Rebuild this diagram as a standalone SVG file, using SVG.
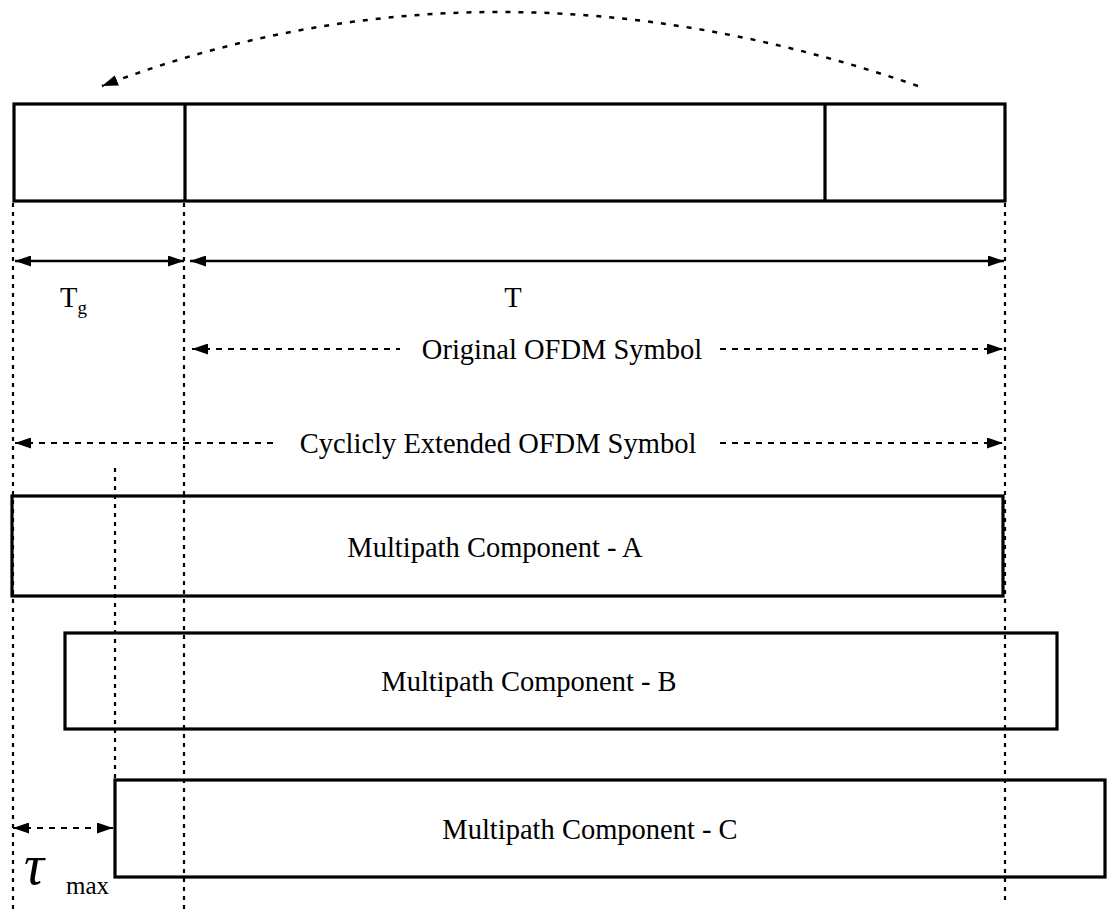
<svg xmlns="http://www.w3.org/2000/svg" width="1107" height="911" viewBox="0 0 1107 911">
<style>
.box{fill:none;stroke:#000;stroke-width:3.2}
.solid{fill:none;stroke:#000;stroke-width:2.5}
.dash{fill:none;stroke:#000;stroke-width:2;stroke-dasharray:6 6}
.dot{fill:none;stroke:#000;stroke-width:2.2;stroke-dasharray:4 5}
.curve{fill:none;stroke:#000;stroke-width:2.5;stroke-dasharray:5 8}
.t{font-family:"Liberation Serif","Times New Roman",serif;font-size:28.5px;fill:#000}
</style>
<defs>
<marker id="ah" viewBox="0 0 16 11" refX="16" refY="5.5" markerWidth="16" markerHeight="11" markerUnits="userSpaceOnUse" orient="auto-start-reverse">
<path d="M0,0 L16,5.5 L0,11 z" fill="#000"/>
</marker>
</defs>
<g id="guides">
<line class="dot" x1="13" y1="203" x2="13" y2="911"/>
<line class="dot" x1="184" y1="203" x2="184" y2="911"/>
<line class="dot" x1="1005" y1="203" x2="1005" y2="905"/>
<line class="dot" x1="115" y1="468" x2="115" y2="780"/>
</g>
<g id="symbol">
<rect class="box" x="14" y="104" width="991" height="97"/>
<line class="box" x1="185" y1="104" x2="185" y2="201"/>
<line class="box" x1="825" y1="104" x2="825" y2="201"/>
</g>
<g id="connectors">
<path class="curve" d="M918,86 Q490,-62 102,86" marker-end="url(#ah)"/>
<line class="solid" x1="15" y1="261" x2="184" y2="261" marker-start="url(#ah)" marker-end="url(#ah)"/>
<line class="solid" x1="190" y1="261" x2="1004" y2="261" marker-start="url(#ah)" marker-end="url(#ah)"/>
<line class="dash" x1="192" y1="349" x2="400" y2="349" marker-start="url(#ah)"/>
<line class="dash" x1="720" y1="349" x2="1003" y2="349" marker-end="url(#ah)"/>
<line class="dash" x1="15" y1="443" x2="278" y2="443" marker-start="url(#ah)"/>
<line class="dash" x1="720" y1="443" x2="1003" y2="443" marker-end="url(#ah)"/>
<line class="dash" x1="13" y1="828" x2="113" y2="828" marker-start="url(#ah)" marker-end="url(#ah)"/>
</g>
<g id="labels">
<text class="t" x="60" y="307">T<tspan style="font-size:19px" dy="7">g</tspan></text>
<text class="t" x="513" y="307" text-anchor="middle">T</text>
<text class="t" x="562" y="359" text-anchor="middle">Original OFDM Symbol</text>
<text class="t" x="498" y="453" text-anchor="middle">Cyclicly Extended OFDM Symbol</text>
<text class="t" x="24" y="884" style="font-size:56px;font-style:italic">τ</text>
<text class="t" x="66" y="894" style="font-size:25px">max</text>
</g>
<g id="compA">
<rect class="box" x="12" y="496" width="991" height="100"/>
<text class="t" x="495" y="557" text-anchor="middle">Multipath Component - A</text>
</g>
<g id="compB">
<rect class="box" x="65" y="633" width="992" height="96"/>
<text class="t" x="529" y="691" text-anchor="middle">Multipath Component - B</text>
</g>
<g id="compC">
<rect class="box" x="115" y="780" width="990" height="97"/>
<text class="t" x="590" y="839" text-anchor="middle">Multipath Component - C</text>
</g>
</svg>
